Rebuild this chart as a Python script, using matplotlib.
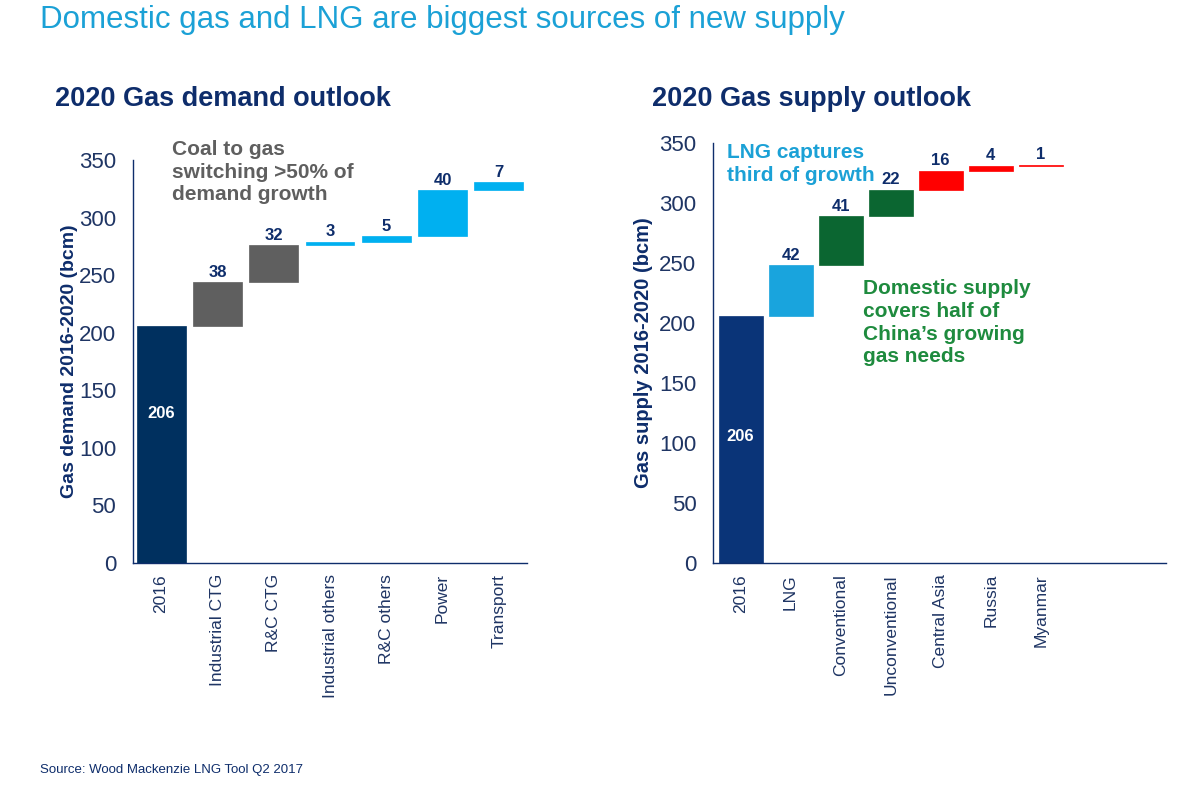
import numpy as np
import matplotlib
matplotlib.use('Agg')
import matplotlib.pyplot as plt

plt.rcParams['font.family'] = ['Liberation Sans', 'DejaVu Sans']

# demand side
demand_cats = ['2016', 'Industrial CTG', 'R&C CTG', 'Industrial others',
               'R&C others', 'Power', 'Transport']
demand_vals = [206, 38, 32, 3, 5, 40, 7]

# supply side
supply_cats = ['2016', 'LNG', 'Conventional', 'Unconventional',
               'Central Asia', 'Russia', 'Myanmar']
supply_vals = [206, 42, 41, 22, 16, 4, 1]

navy = '#0E2D6B'
tick_col = '#1F3564'
demand_cols = ['#00305F', '#5F5F5F', '#5F5F5F', '#00B0F0', '#00B0F0', '#00B0F0', '#00B0F0']
supply_cols = ['#0A3478', '#19A4DD', '#0B6631', '#0B6631', '#FF0000', '#FF0000', '#FF0000']


def waterfall(ax, cats, vals, cols, width, nslots, first_frac):
    vals = np.array(vals)
    bottoms = np.concatenate([[0], np.cumsum(vals)[:-1]])
    x = np.arange(len(cats))
    ax.bar(x, vals, bottom=bottoms, width=width, color=cols, edgecolor=cols,
           linewidth=0.5)
    for i in range(len(cats)):
        if i == 0:
            ax.text(x[i], vals[i] * first_frac, str(vals[i]), ha='center', va='center',
                    color='white', fontsize=12, fontweight='bold')
        else:
            ax.text(x[i], bottoms[i] + vals[i] + 2, str(vals[i]), ha='center',
                    va='bottom', color=navy, fontsize=12, fontweight='bold')
    ax.set_xticks(x)
    ax.set_xticklabels(cats, rotation=90, fontsize=12.5, color=tick_col)
    ax.set_ylim(0, 350)
    ax.set_yticks(range(0, 351, 50))
    ax.tick_params(axis='y', labelsize=16, labelcolor=tick_col, length=0, pad=12)
    ax.tick_params(axis='x', length=0, pad=8)
    ax.set_xlim(-0.5, nslots - 0.5)
    for s in ['top', 'right']:
        ax.spines[s].set_visible(False)
    for s in ['left', 'bottom']:
        ax.spines[s].set_color(navy)
        ax.spines[s].set_linewidth(1)


fig = plt.figure(figsize=(11.86, 7.86), dpi=100)

ax1 = fig.add_axes([0.1121, 0.2837, 0.3323, 0.5127])
waterfall(ax1, demand_cats, demand_vals, demand_cols, 0.87, 7, 0.63)
ax1.set_ylabel('Gas demand 2016-2020 (bcm)', fontsize=14, fontweight='bold',
               color=navy)
ax1.yaxis.set_label_coords(-0.14, 0.5)

ax2 = fig.add_axes([0.6012, 0.2837, 0.3819, 0.5344])
waterfall(ax2, supply_cats, supply_vals, supply_cols, 0.88, 9, 0.51)
ax2.set_xlim(-0.55, 8.5)
ax2.set_ylabel('Gas supply 2016-2020 (bcm)', fontsize=14.5, fontweight='bold',
               color=navy)
ax2.yaxis.set_label_coords(-0.132, 0.5)

fig.text(40 / 1186, 1 - 20 / 786, 'Domestic gas and LNG are biggest sources of new supply',
         fontsize=22.5, color='#1BA1D6', va='center', ha='left')
fig.text(55 / 1186, 1 - 99 / 786, '2020 Gas demand outlook', fontsize=19.5,
         fontweight='bold', color=navy, va='center', ha='left')
fig.text(652 / 1186, 1 - 99 / 786, '2020 Gas supply outlook', fontsize=19.5,
         fontweight='bold', color=navy, va='center', ha='left')

fig.text(172 / 1186, 1 - 140 / 786, 'Coal to gas\nswitching >50% of\ndemand growth',
         fontsize=15, fontweight='bold', color='#5F5F5F', va='top', ha='left',
         linespacing=1.25)
fig.text(727 / 1186, 1 - 143 / 786, 'LNG captures\nthird of growth',
         fontsize=15, fontweight='bold', color='#1BA1D6', va='top', ha='left',
         linespacing=1.25)
fig.text(863 / 1186, 1 - 279 / 786, 'Domestic supply\ncovers half of\nChina\u2019s growing\ngas needs',
         fontsize=15, fontweight='bold', color='#1E8B3E', va='top', ha='left',
         linespacing=1.25)

fig.text(40 / 1186, 1 - 770 / 786, 'Source: Wood Mackenzie LNG Tool Q2 2017',
         fontsize=9.5, color=navy, va='center', ha='left')

fig.savefig('out.png', dpi=100)
